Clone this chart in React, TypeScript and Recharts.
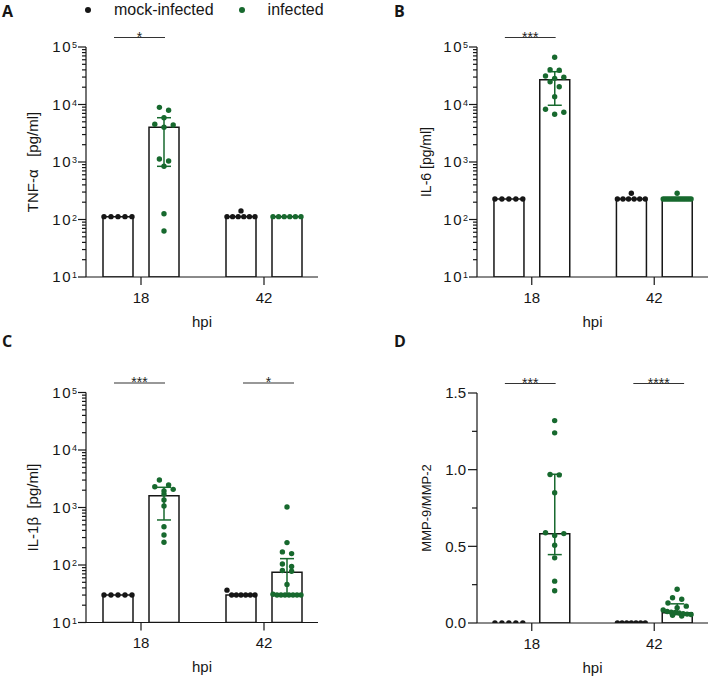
import React from "react";
import {
  Bar,
  ComposedChart,
  ErrorBar,
  Legend,
  ReferenceLine,
  Scatter,
  XAxis,
  YAxis,
} from "recharts";

const hpiGroups = ["18", "42"];
const seriesNames = ["mock-infected", "infected"];

// A - TNF-α
const tnfMock18 = [112, 112, 112, 112, 112];
const tnfInf18 = [8930, 7920, 5890, 4530, 4400, 4010, 1127, 1040, 841, 126, 63];
const tnfMock42 = [141, 112, 112, 112, 112, 112, 112];
const tnfInf42 = [112, 112, 112, 112, 112, 112];
const tnfBars = [112, 4010, 112, 112];
const tnfErrInf = [[841, 5890], null];
const tnfSig = ["*", ""];

// B - IL-6
const il6Mock18 = [227, 227, 227, 227, 227];
const il6Inf18 = [66200, 40300, 39400, 31300, 29700, 28500, 24900, 20400, 13700, 8250, 7310, 6760];
const il6Mock42 = [286, 227, 227, 227, 227, 227, 227];
const il6Inf42 = [286, 227, 227, 227, 227, 227, 227, 227, 227, 227, 227, 227, 227, 227, 227, 227];
const il6Bars = [227, 27000, 227, 227];
const il6ErrInf = [[9700, 37200], null];
const il6Sig = ["***", ""];

// C - IL-1β
const il1bMock18 = [30, 30, 30, 30, 30];
const il1bInf18 = [3000, 2460, 2300, 2070, 1940, 1710, 1350, 1060, 464, 333, 249];
const il1bMock42 = [36.5, 30, 30, 30, 30, 30, 30];
const il1bInf42 = [1020, 245, 169, 158, 104, 94, 80, 78, 46, 31, 30, 30, 30, 30, 30, 30, 30];
const il1bBars = [30, 1600, 30, 75];
const il1bErrInf = [[607, 2245], [30, 129]];
const il1bSig = ["***", "*"];

// D - MMP-9/MMP-2
const mmpMock18 = [0, 0, 0, 0, 0];
const mmpInf18 = [1.32, 1.24, 0.968, 0.966, 0.849, 0.589, 0.583, 0.571, 0.507, 0.425, 0.273, 0.21];
const mmpMock42 = [0, 0, 0, 0, 0, 0, 0];
const mmpInf42 = [0.22, 0.165, 0.155, 0.13, 0.11, 0.1, 0.085, 0.075, 0.07, 0.068, 0.065, 0.06, 0.058, 0.055, 0.05, 0.045];
const mmpBars = [0, 0.582, 0, 0.067];
const mmpErrInf = [[0.446, 0.97], [0.055, 0.125]];
const mmpSig = ["***", "****"];

const logExponents = [1, 2, 3, 4, 5];
const logMinor = [2, 3, 4, 5, 6, 7, 8, 9];
const linTicks = [0, 0.25, 0.5, 0.75, 1, 1.25, 1.5];

const GREEN = "#17692e";
const INK = "#161616";

// layout of the x axis (units ~ px of plot width)
const X_DOMAIN = [0, 232];
const GROUP_X0 = 55;
const GROUP_STEP = 123;
const BAR_OFF = 23;
const groupX = (g: number) => GROUP_X0 + g * GROUP_STEP;
const barX = (g: number, s: number) => groupX(g) + (s === 0 ? -BAR_OFF : BAR_OFF);
const xTicks = hpiGroups.map((_, g) => groupX(g));

const logTicks: number[] = [];
logExponents.forEach((e, i) => {
  logTicks.push(Math.pow(10, e));
  if (i < logExponents.length - 1) logMinor.forEach((m) => logTicks.push(m * Math.pow(10, e)));
});

// spread dots of one bar horizontally, rows of close values side by side
function spread(values: number[], toPx: (v: number) => number, center: number) {
  const sorted = [...values].sort((a, b) => b - a);
  const rows: number[][] = [];
  let row: number[] = [];
  let start: number | null = null;
  for (const v of sorted) {
    const p = toPx(v);
    if (start === null || start - p >= 5) {
      if (row.length) rows.push(row);
      row = [v];
      start = p;
    } else row.push(v);
  }
  if (row.length) rows.push(row);
  const out: { x: number; y: number }[] = [];
  rows.forEach((r) => {
    const n = r.length;
    const s = n > 1 ? Math.min(9.2, 28 / (n - 1)) : 0;
    r.forEach((v, i) => {
      const k = n === 3 ? [-1, 1, 0][i] : i - (n - 1) / 2;
      out.push({ x: center + k * s, y: v });
    });
  });
  return out;
}

const LogTick = (props: any) => {
  const { x, y, payload } = props;
  const lv = Math.log10(payload.value);
  const exp = Math.round(lv);
  const major = Math.abs(lv - exp) < 1e-6;
  return (
    <g>
      <line x1={x} x2={x - (major ? 8 : 4)} y1={y} y2={y} stroke={INK} strokeWidth={1.2} />
      {major && (
        <text x={x - 9} y={y} dy="0.36em" textAnchor="end" fontSize={15} fill={INK}>
          <tspan letterSpacing={1.5}>10</tspan>
          <tspan dy={-4} fontSize={9}>
            {exp}
          </tspan>
        </text>
      )}
    </g>
  );
};

const LinTick = (props: any) => {
  const { x, y, payload } = props;
  const v = payload.value;
  const major = Math.abs(v * 2 - Math.round(v * 2)) < 1e-6;
  return (
    <g>
      <line x1={x} x2={x - (major ? 9 : 5)} y1={y} y2={y} stroke={INK} strokeWidth={1.2} />
      {major && (
        <text x={x - 11} y={y} dy="0.36em" textAnchor="end" fontSize={15} fill={INK}>
          {v.toFixed(1)}
        </text>
      )}
    </g>
  );
};

const renderLegend = (props: any) => {
  const items = (props.payload || [])
    .filter((p: any) => seriesNames.includes(p.value))
    .sort((a: any, b: any) => seriesNames.indexOf(a.value) - seriesNames.indexOf(b.value));
  return (
    <div style={{ whiteSpace: "nowrap", fontSize: 16, lineHeight: "18px", color: INK }}>
      {items.map((p: any, i: number) => (
        <span key={i}>
          <span
            style={{
              display: "inline-block",
              width: 6,
              height: 6,
              borderRadius: 3,
              background: p.color,
              verticalAlign: "middle",
              marginRight: 23,
            }}
          />
          <span style={{ verticalAlign: "middle", marginRight: 25 }}>{p.value}</span>
        </span>
      ))}
    </div>
  );
};

type PanelProps = {
  letter: string;
  yLabel: string;
  yLabelSize: number;
  log: boolean;
  mock: number[][];
  inf: number[][];
  bars: number[];
  errInf: (number[] | null)[];
  sig: string[];
  left: number;
  top: number;
  width: number;
  height: number;
  marginTop: number;
  marginLeft: number;
  marginRight: number;
  yAxisWidth: number;
  withLegend?: boolean;
};

function Panel(p: PanelProps) {
  const plotH = 230;
  const xAxisH = p.height - p.marginTop - plotH;
  const toPx = p.log ? (v: number) => Math.log10(v) * (plotH / 4) : (v: number) => v * (plotH / 1.5);
  const mockPts = p.mock.flatMap((vals, g) => spread(vals, toPx, barX(g, 0)));
  const infPts = p.inf.flatMap((vals, g) => spread(vals, toPx, barX(g, 1)));
  const rows = hpiGroups.flatMap((_, g) =>
    [0, 1].map((s) => {
      const value = p.bars[g * 2 + s];
      const e = s === 1 ? p.errInf[g] : null;
      return { x: barX(g, s), value, err: e ? [value - e[0], e[1] - value] : undefined };
    })
  );
  const sigY = p.log ? 100000 * Math.pow(10, 9.5 / (plotH / 4)) : 1.5 + 9.5 / (plotH / 1.5);
  const yLabel = {
    value: p.yLabel,
    angle: -90,
    position: "insideLeft" as const,
    offset: 5,
    fontSize: p.yLabelSize,
    fill: INK,
    style: { textAnchor: "middle" },
  };

  return (
    <div style={{ position: "absolute", left: p.left, top: p.top, width: p.width, height: p.height }}>
      <div
        style={{
          position: "absolute",
          left: p.letter === "A" || p.letter === "C" ? 2 : 40,
          top: 3,
          fontFamily: '"Open Sans", sans-serif',
          fontWeight: 700,
          fontSize: 16,
          lineHeight: "16px",
          color: INK,
        }}
      >
        {p.letter}
      </div>
      <ComposedChart
        width={p.width}
        height={p.height}
        data={rows}
        margin={{ top: p.marginTop, right: p.marginRight, left: p.marginLeft, bottom: 0 }}
      >
        <XAxis
          type="number"
          dataKey="x"
          domain={X_DOMAIN}
          allowDataOverflow
          ticks={xTicks}
          interval={0}
          tickFormatter={(v) => hpiGroups[xTicks.indexOf(v)] ?? ""}
          tickSize={8}
          tickMargin={7}
          height={xAxisH}
          stroke={INK}
          strokeWidth={1.2}
          tick={{ fontSize: 15, fill: INK }}
          label={{ value: "hpi", position: "insideBottom", offset: xAxisH - 49.5, fontSize: 15, fill: INK }}
        />
        <XAxis xAxisId="bars" type="number" dataKey="x" domain={X_DOMAIN} allowDataOverflow hide />
        {p.log ? (
          <YAxis
            type="number"
            scale="log"
            domain={[10, 100000]}
            allowDataOverflow
            ticks={logTicks}
            interval={0}
            tick={(t: any) => <LogTick {...t} />}
            tickLine={false}
            tickSize={0}
            tickMargin={0}
            width={p.yAxisWidth}
            stroke={INK}
            strokeWidth={1.2}
            label={yLabel}
          />
        ) : (
          <YAxis
            type="number"
            domain={[0, 1.5]}
            allowDataOverflow
            ticks={linTicks}
            interval={0}
            tick={(t: any) => <LinTick {...t} />}
            tickLine={false}
            tickSize={0}
            tickMargin={0}
            width={p.yAxisWidth}
            stroke={INK}
            strokeWidth={1.2}
            label={yLabel}
          />
        )}
        <Bar
          xAxisId="bars"
          dataKey="value"
          barSize={30}
          fill="#ffffff"
          stroke={INK}
          strokeWidth={1.5}
          isAnimationActive={false}
          legendType="none"
        >
          <ErrorBar dataKey="err" width={7} stroke={GREEN} strokeWidth={1.5} direction="y" />
        </Bar>
        <Scatter
          name={seriesNames[0]}
          data={mockPts}
          dataKey="y"
          fill={INK}
          isAnimationActive={false}
          shape={(s: any) => <circle cx={s.cx} cy={s.cy} r={2.7} fill={INK} />}
        />
        <Scatter
          name={seriesNames[1]}
          data={infPts}
          dataKey="y"
          fill={GREEN}
          isAnimationActive={false}
          shape={(s: any) => <circle cx={s.cx} cy={s.cy} r={2.7} fill={GREEN} />}
        />
        {p.sig.map((label, g) =>
          label ? (
            <ReferenceLine
              key={g}
              segment={[
                { x: groupX(g) - 25.5 + (g === 0 ? -1.5 : 4.5), y: sigY },
                { x: groupX(g) + 25.5 + (g === 0 ? -1.5 : 4.5), y: sigY },
              ]}
              stroke="#333"
              strokeWidth={1.2}
              ifOverflow="visible"
              label={{ value: label, position: "top", offset: -4, fontSize: 14, fill: "#222" }}
            />
          ) : null
        )}
        {p.withLegend && (
          <Legend
            layout="horizontal"
            verticalAlign="middle"
            align="center"
            content={renderLegend}
            wrapperStyle={{ position: "absolute", left: 85, top: 0, width: 320, height: 18 }}
          />
        )}
      </ComposedChart>
    </div>
  );
}

export default function App() {
  return (
    <div
      style={{
        position: "absolute",
        left: 0,
        top: 0,
        width: 709,
        height: 679,
        background: "#ffffff",
        fontFamily: '"Liberation Sans", Arial, sans-serif',
        color: INK,
      }}
    >
      <Panel
        letter="A"
        yLabel={"TNF-α\u00A0\u00A0\u00A0[pg/ml]"}
        yLabelSize={15}
        log
        mock={[tnfMock18, tnfMock42]}
        inf={[tnfInf18, tnfInf42]}
        bars={tnfBars}
        errInf={tnfErrInf}
        sig={tnfSig}
        left={0}
        top={0}
        width={354}
        height={330}
        marginTop={47}
        marginLeft={28}
        marginRight={36}
        yAxisWidth={58}
        withLegend
      />
      <Panel
        letter="B"
        yLabel="IL-6 [pg/ml]"
        yLabelSize={14}
        log
        mock={[il6Mock18, il6Mock42]}
        inf={[il6Inf18, il6Inf42]}
        bars={il6Bars}
        errInf={il6ErrInf}
        sig={il6Sig}
        left={354}
        top={0}
        width={355}
        height={330}
        marginTop={47}
        marginLeft={67}
        marginRight={1}
        yAxisWidth={56}
      />
      <Panel
        letter="C"
        yLabel={"IL-1β\u00A0\u00A0[pg/ml]"}
        yLabelSize={15}
        log
        mock={[il1bMock18, il1bMock42]}
        inf={[il1bInf18, il1bInf42]}
        bars={il1bBars}
        errInf={il1bErrInf}
        sig={il1bSig}
        left={0}
        top={330}
        width={354}
        height={349}
        marginTop={62.5}
        marginLeft={28}
        marginRight={36}
        yAxisWidth={58}
      />
      <Panel
        letter="D"
        yLabel="MMP-9/MMP-2"
        yLabelSize={13}
        log={false}
        mock={[mmpMock18, mmpMock42]}
        inf={[mmpInf18, mmpInf42]}
        bars={mmpBars}
        errInf={mmpErrInf}
        sig={mmpSig}
        left={354}
        top={330}
        width={355}
        height={349}
        marginTop={63}
        marginLeft={67}
        marginRight={1}
        yAxisWidth={56}
      />
    </div>
  );
}
